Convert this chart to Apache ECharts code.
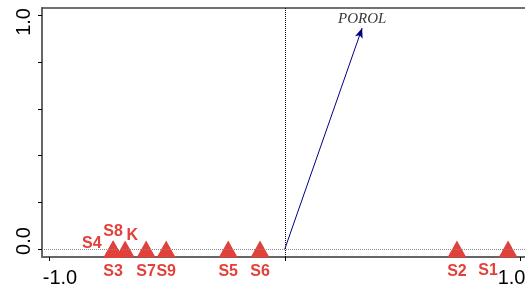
<!DOCTYPE html>
<html>
<head>
<meta charset="utf-8">
<script src="https://cdn.jsdelivr.net/npm/echarts@6/dist/echarts.min.js"></script>
<style>
html,body{margin:0;padding:0;background:#fff;}
#chart{width:525px;height:289px;}
</style>
</head>
<body>
<div id="chart"></div>
<script>
// site scores on axis 1 / axis 2
var siteNames = ['S1', 'S2', 'S3', 'S4', 'S5', 'S6', 'S7', 'S8', 'S9', 'K'];
var siteAx1 = [0.947, 0.730, -0.728, -0.728, -0.240, -0.105, -0.588, -0.728, -0.503, -0.677];
var siteAx2 = [0, 0, 0, 0, 0, 0, 0, 0, 0, 0];

// environmental vector
var envNames = ['POROL'];
var envAx1 = [0.328];
var envAx2 = [0.946];

var xTicks = [-1, 0, 1];
var xTickLabels = [-1, 1];
var yTicks = [0, 0.2, 0.4, 0.6, 0.8, 1.0];
var yTickLabels = [0, 1];

var red = '#e3403b';

// where each site label sits
var labelPlace = {
  S1: {position: 'bottom', distance: 5, offset: [-20, 0]},
  S4: {position: 'left', distance: 2, offset: [0, -5]},
  S8: {position: 'top', distance: 1},
  K: {position: 'top', distance: 1, offset: [7, 4]}
};

var sites = siteNames.map(function (n, i) {
  var p = labelPlace[n] || {position: 'bottom', distance: 6};
  return {
    name: n,
    value: [siteAx1[i], siteAx2[i]],
    label: {position: p.position, distance: p.distance, offset: p.offset || [0, 0]}
  };
});

var arrows = envNames.map(function (n, i) {
  return [{coord: [0, 0]}, {coord: [envAx1[i], envAx2[i]]}];
});
var envEnds = envNames.map(function (n, i) {
  return {name: n, value: [envAx1[i], envAx2[i]]};
});

var xMin = -1.0297, xMax = 1.0187;
var axisFont = {fontSize: 20, color: '#000', fontFamily: 'Liberation Sans'};

var chart = echarts.init(document.getElementById('chart'));
chart.setOption({
  animation: false,
  grid: {left: 42, top: 8, right: 0, height: 249, outerBoundsMode: 'none', containLabel: false},
  xAxis: [{
    type: 'value', min: xMin, max: xMax,
    axisLine: {show: true, onZero: false, lineStyle: {color: '#666', width: 2}},
    axisTick: {show: true, customValues: xTicks, length: 4, lineStyle: {color: '#000'}},
    axisLabel: {
      customValues: xTickLabels, margin: 11, color: '#000', fontSize: 20,
      fontFamily: 'Liberation Sans',
      formatter: function (v) { return v < 0 ? '{lo|-1.0}' : '{hi|1.0}'; },
      rich: {
        lo: Object.assign({padding: [0, 0, 0, 22]}, axisFont),
        hi: Object.assign({padding: [0, 18, 0, 0]}, axisFont)
      }
    },
    splitLine: {show: false}
  }, {
    // top frame line
    type: 'value', position: 'top', min: xMin, max: xMax,
    axisLine: {show: true, onZero: false, lineStyle: {color: '#444', width: 1.5}},
    axisTick: {show: false}, axisLabel: {show: false}, splitLine: {show: false}
  }],
  yAxis: {
    type: 'value', min: -0.0343, max: 1.032,
    axisLine: {show: true, onZero: false, lineStyle: {color: '#666', width: 2}},
    axisTick: {show: true, customValues: yTicks, length: 4, lineStyle: {color: '#000'}},
    axisLabel: {
      customValues: yTickLabels, rotate: 90, margin: 8, color: '#000', fontSize: 20,
      fontFamily: 'Liberation Sans',
      formatter: function (v) { return v === 0 ? '{lo|0.0}' : '{hi|1.0}'; },
      rich: {
        lo: Object.assign({padding: [0, 0, 0, 16]}, axisFont),
        hi: Object.assign({padding: [0, 13, 0, 0]}, axisFont)
      }
    },
    splitLine: {show: false}
  },
  series: [
    {
      type: 'scatter',
      data: [],
      silent: true,
      markLine: {
        silent: true,
        symbol: ['none', 'none'],
        label: {show: false},
        data: [
          {xAxis: 0, lineStyle: {color: '#000', type: 'dotted', width: 1}},
          {yAxis: 0, lineStyle: {color: '#888', type: 'dotted', width: 1}}
        ]
      }
    },
    {
      type: 'scatter',
      data: envEnds,
      symbolSize: 0,
      label: {
        show: true, position: 'top', distance: 2,
        formatter: '{b}', color: '#000', fontSize: 15,
        fontStyle: 'italic', fontFamily: 'Liberation Serif'
      },
      markLine: {
        silent: true,
        symbol: ['none', 'arrow'],
        symbolSize: [6, 10],
        label: {show: false},
        lineStyle: {color: '#000080', type: 'solid', width: 1},
        data: arrows
      }
    },
    {
      type: 'scatter',
      data: sites,
      symbol: 'triangle',
      symbolSize: [19, 17],
      itemStyle: {color: red, opacity: 1},
      label: {
        show: true, formatter: '{b}', color: red,
        fontSize: 16, fontWeight: 'bold', fontFamily: 'Liberation Sans'
      }
    }
  ]
});
</script>
</body>
</html>
